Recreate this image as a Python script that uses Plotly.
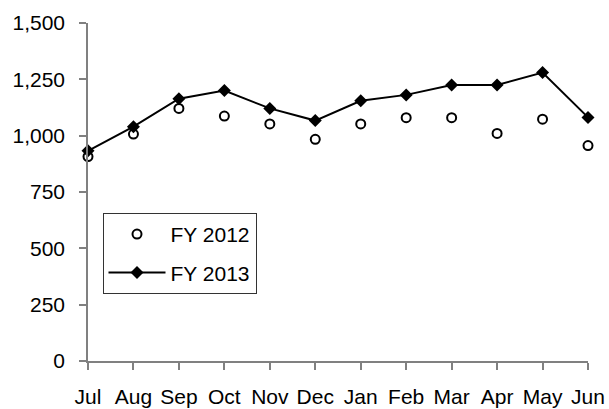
import plotly.graph_objects as go

months = ["Jul", "Aug", "Sep", "Oct", "Nov", "Dec", "Jan", "Feb", "Mar", "Apr", "May", "Jun"]
fy2012 = [907, 1007, 1121, 1087, 1052, 984, 1052, 1080, 1080, 1010, 1073, 956]
fy2013 = [933, 1040, 1164, 1200, 1121, 1067, 1155, 1181, 1225, 1225, 1280, 1081]
y_ticks = [0, 250, 500, 750, 1000, 1250, 1500]

FONT = "Liberation Sans, Arial, sans-serif"
FS = 21

fig = go.Figure()
fig.add_trace(go.Scatter(
    x=months, y=fy2012, name="FY 2012", mode="markers",
    marker=dict(symbol="circle-open", size=9, color="black", line=dict(width=2, color="black")),
    cliponaxis=False, legendgroup="a",
))
fig.add_trace(go.Scatter(
    x=months, y=fy2013, name="FY 2013", mode="lines+markers",
    line=dict(color="black", width=2),
    marker=dict(symbol="diamond", size=10, color="black"),
    cliponaxis=False, legendgroup="b",
))

fig.update_layout(
    width=609, height=409,
    margin=dict(l=88, r=21, t=23, b=48),
    paper_bgcolor="white", plot_bgcolor="white",
    font=dict(family=FONT, size=FS, color="black"),
    showlegend=True,
    legend=dict(
        x=0.029, y=0.438, xanchor="left", yanchor="top",
        bordercolor="#333333", borderwidth=1, bgcolor="white",
        font=dict(family=FONT, size=FS, color="black"),
        traceorder="grouped", tracegroupgap=8, itemwidth=57,
    ),
    xaxis=dict(
        type="category", range=[0, 11], showgrid=False, zeroline=False,
        showline=True, linecolor="#808080", linewidth=1.5,
        ticks="outside", ticklen=7, tickcolor="#808080", tickwidth=1.5,
        tickfont=dict(family=FONT, size=FS, color="black"),
        ticklabelstandoff=9, automargin=False,
    ),
    yaxis=dict(
        range=[0, 1500], tickvals=y_ticks, tickformat=",d", showgrid=False, zeroline=False,
        showline=True, linecolor="#808080", linewidth=1.5,
        ticks="outside", ticklen=7, tickcolor="#808080", tickwidth=1.5,
        tickfont=dict(family=FONT, size=FS, color="black"),
        ticklabelstandoff=10, automargin=False,
    ),
)

# remove the browser's default body margin so the 609x409 figure fills the window
fig.write_html(
    "out.html",
    config={"displayModeBar": False},
    post_script="document.body.style.margin='0';document.body.style.overflow='hidden';",
)
